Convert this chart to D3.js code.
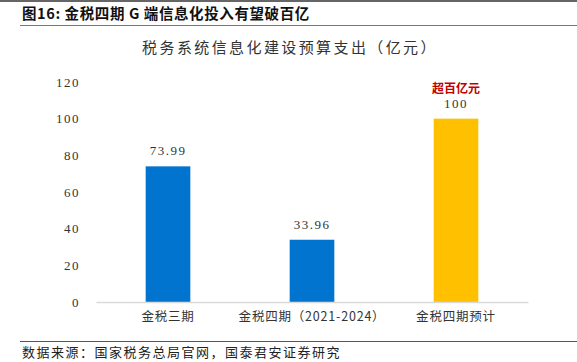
<!DOCTYPE html>
<html>
<head>
<meta charset="utf-8">
<script src="https://cdn.jsdelivr.net/npm/d3@7"></script>
<style>
  body { margin: 0; background: #fff; }
  svg { display: block; }
</style>
</head>
<body>
<div id="container"></div>
<script>
const categories = ['金税三期', '金税四期（2021-2024）', '金税四期预计'];
const values = [73.99, 33.96, 100];
const valueLabels = ['73.99', '33.96', '100'];
const barColors = ['#0174CF', '#0174CF', '#FFC000'];
const yTicks = [0, 20, 40, 60, 80, 100, 120];

const W = 577, H = 362;
const cjk = '"Noto Sans CJK SC", sans-serif';
const serif = '"Liberation Serif", "DejaVu Serif", serif';

const svg = d3.select('#container')
    .append('svg')
    .attr('width', W)
    .attr('height', H);

// top rule and header
svg.append('rect').attr('x', 0).attr('y', 0).attr('width', W).attr('height', 2).attr('fill', '#666');
svg.append('text')
    .attr('x', 22).attr('y', 19)
    .attr('font-family', cjk).attr('font-weight', 'bold').attr('font-size', 14.5)
    .attr('letter-spacing', 0.6)
    .attr('fill', '#111')
    .text('图16:  金税四期 G 端信息化投入有望破百亿');
svg.append('line')
    .attr('x1', 20).attr('x2', W).attr('y1', 25.5).attr('y2', 25.5)
    .attr('stroke', '#777').attr('stroke-width', 1);

svg.append('text')
    .attr('x', 290).attr('y', 53)
    .attr('text-anchor', 'middle')
    .attr('font-family', cjk).attr('font-size', 15)
    .attr('letter-spacing', 2.4)
    .attr('fill', '#333')
    .text('税务系统信息化建设预算支出（亿元）');

const x = d3.scaleBand()
    .domain(categories)
    .range([96, 528])
    .paddingInner(0.69)
    .paddingOuter(0.345);

const y = d3.scaleLinear()
    .domain([0, 120])
    .range([302, 82]);

// y axis labels
const yAxis = svg.append('g')
    .attr('transform', 'translate(80, 0)')
    .call(d3.axisLeft(y).tickValues(yTicks).tickSize(0).tickPadding(0));
yAxis.select('.domain').remove();
yAxis.selectAll('text')
    .attr('font-family', serif).attr('font-size', 13)
    .attr('letter-spacing', 1.5)
    .attr('fill', '#333');

// bars
svg.append('g')
    .selectAll('rect')
    .data(values)
    .join('rect')
    .attr('x', (d, i) => x(categories[i]))
    .attr('y', d => y(d))
    .attr('width', x.bandwidth())
    .attr('height', d => y(0) - y(d))
    .attr('fill', (d, i) => barColors[i]);

// x axis
const xAxis = svg.append('g')
    .attr('transform', `translate(0, ${y(0)})`)
    .call(d3.axisBottom(x).tickSize(0).tickPadding(10));
xAxis.select('.domain').attr('stroke', '#d9d9d9').attr('stroke-width', 1.5);
xAxis.selectAll('text')
    .attr('font-family', cjk).attr('font-size', 12.5)
    .attr('letter-spacing', 0.8)
    .attr('fill', '#333');

// value labels
svg.append('g')
    .selectAll('text')
    .data(values)
    .join('text')
    .attr('x', (d, i) => x(categories[i]) + x.bandwidth() / 2)
    .attr('y', d => y(d) - 11)
    .attr('text-anchor', 'middle')
    .attr('font-family', serif).attr('font-size', 13)
    .attr('letter-spacing', 1.5)
    .attr('fill', '#333')
    .text((d, i) => valueLabels[i]);

svg.append('text')
    .attr('x', x(categories[2]) + x.bandwidth() / 2)
    .attr('y', y(100) - 26)
    .attr('text-anchor', 'middle')
    .attr('font-family', cjk).attr('font-weight', 'bold').attr('font-size', 12)
    .attr('fill', '#C00000')
    .text('超百亿元');

// footer
svg.append('line')
    .attr('x1', 20).attr('x2', W).attr('y1', 341.5).attr('y2', 341.5)
    .attr('stroke', '#555').attr('stroke-width', 1);
svg.append('text')
    .attr('x', 22).attr('y', 357)
    .attr('font-family', cjk).attr('font-size', 13)
    .attr('letter-spacing', 1.5)
    .attr('fill', '#222')
    .text('数据来源：国家税务总局官网，国泰君安证券研究');
</script>
</body>
</html>
